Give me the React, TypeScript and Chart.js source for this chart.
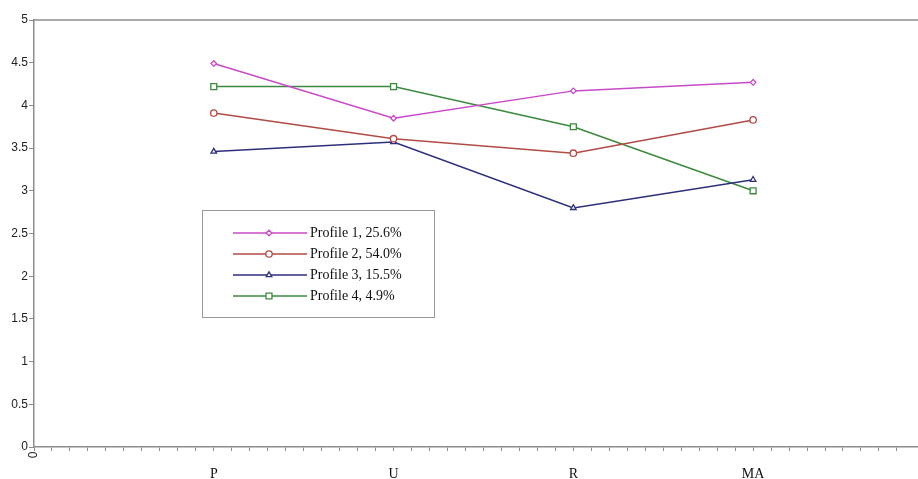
import React, { useEffect, useRef } from "react";
import { Chart, registerables } from "chart.js";
import { drawPoint } from "chart.js/helpers";

Chart.register(...registerables);

const categories = ["P", "U", "R", "MA"];
const seriesNames = ["Profile 1, 25.6%", "Profile 2, 54.0%", "Profile 3, 15.5%", "Profile 4, 4.9%"];
const profile1 = [4.49, 3.85, 4.17, 4.27];
const profile2 = [3.91, 3.61, 3.44, 3.83];
const profile3 = [3.46, 3.57, 2.8, 3.13];
const profile4 = [4.22, 4.22, 3.75, 3.0];
const yTickStep = 0.5;
const xOriginLabel = "0";

const colors = ["#c94ac9", "#b04b46", "#2e2f7c", "#3b8a3f"];
const pointStyles = ["rectRot", "circle", "triangle", "rect"];
const pointRadii = [2.8, 3.2, 3.2, 4.2];

const legendPlugin = {
  id: "boxLegend",
  afterDraw(chart: any) {
    const ctx = chart.ctx as CanvasRenderingContext2D;
    const area = chart.chartArea;
    ctx.save();
    // top frame line
    ctx.strokeStyle = "#8c8c8c";
    ctx.lineWidth = 1.5;
    ctx.beginPath();
    ctx.moveTo(area.left, area.top);
    ctx.lineTo(area.right, area.top);
    ctx.stroke();

    // rotated origin label
    ctx.save();
    ctx.translate(area.left, area.bottom + 8);
    ctx.rotate(-Math.PI / 2);
    ctx.fillStyle = "#222";
    ctx.font = "12px 'Liberation Sans', Arial, sans-serif";
    ctx.textAlign = "center";
    ctx.textBaseline = "middle";
    ctx.fillText(xOriginLabel, 0, 0);
    ctx.restore();

    // legend box
    const bx = 202, by = 210, bw = 232, bh = 107;
    ctx.strokeStyle = "#9a9a9a";
    ctx.lineWidth = 1;
    ctx.strokeRect(bx + 0.5, by + 0.5, bw, bh);
    chart.data.datasets.forEach((ds: any, i: number) => {
      const y = by + 23 + i * 21;
      ctx.strokeStyle = ds.borderColor;
      ctx.lineWidth = ds.borderWidth;
      ctx.beginPath();
      ctx.moveTo(bx + 31, y);
      ctx.lineTo(bx + 105, y);
      ctx.stroke();
      ctx.fillStyle = "#ffffff";
      ctx.strokeStyle = ds.borderColor;
      ctx.lineWidth = ds.pointBorderWidth;
      drawPoint(ctx, { pointStyle: ds.pointStyle, radius: ds.pointRadius, borderWidth: ds.pointBorderWidth, rotation: 0 } as any, bx + 67, y);
      ctx.fillStyle = "#111";
      ctx.font = "14px 'Liberation Serif', 'Times New Roman', serif";
      ctx.textAlign = "left";
      ctx.textBaseline = "middle";
      ctx.fillText(ds.label, bx + 108, y);
    });
    ctx.restore();
  },
};

export default function App() {
  const ref = useRef<HTMLCanvasElement | null>(null);
  useEffect(() => {
    if (!ref.current) return;
    const all = [profile1, profile2, profile3, profile4];
    const chart = new Chart(ref.current, {
      type: "line",
      data: {
        datasets: all.map((vals, i) => ({
          label: seriesNames[i],
          data: vals.map((v, j) => ({ x: j + 1, y: v })),
          borderColor: colors[i],
          backgroundColor: "#ffffff",
          borderWidth: 1.5,
          pointStyle: pointStyles[i] as any,
          pointRadius: pointRadii[i],
          pointBorderWidth: 1.3,
          pointBackgroundColor: "#ffffff",
          pointBorderColor: colors[i],
          tension: 0,
          fill: false,
        })),
      },
      options: {
        responsive: false,
        animation: false,
        layout: { padding: { top: 20, right: 0, bottom: 0, left: 0 } },
        plugins: { legend: { display: false }, tooltip: { enabled: false } },
        scales: {
          x: {
            type: "linear",
            min: 0,
            max: 4.92,
            afterFit: (s: any) => { s.height = 32; s.paddingRight = 0; s.paddingLeft = 0; },
            grid: { drawOnChartArea: false, drawTicks: true, tickLength: 4, color: "#8c8c8c", lineWidth: 1 },
            border: { display: true, color: "#8c8c8c", width: 1.5 },
            ticks: {
              stepSize: 0.1,
              autoSkip: false,
              maxRotation: 0,
              minRotation: 0,
              padding: 15,
              color: "#111",
              font: { family: "'Liberation Serif', 'Times New Roman', serif", size: 14 },
              callback: (v: any) => {
                const n = Number(v);
                const r = Math.round(n);
                if (Math.abs(n - r) < 1e-6 && r >= 1 && r <= categories.length) return categories[r - 1];
                return "";
              },
            },
          },
          y: {
            min: 0,
            max: 5,
            afterFit: (s: any) => { s.width = 34; },
            grid: { drawOnChartArea: false, drawTicks: true, tickLength: 5, color: "#8c8c8c", lineWidth: 1 },
            border: { display: true, color: "#8c8c8c", width: 1.5 },
            ticks: {
              stepSize: yTickStep,
              padding: 1,
              color: "#222",
              font: { family: "'Liberation Sans', Arial, sans-serif", size: 12 },
              callback: (v: any) => String(Number(Number(v).toFixed(1))),
            },
          },
        },
      },
      plugins: [legendPlugin],
    });
    return () => chart.destroy();
  }, []);
  return (
    <div style={{ position: "absolute", left: 0, top: 0, width: 918, height: 479, overflow: "hidden", background: "#fff" }}>
      <canvas ref={ref} width={924} height={479} style={{ display: "block" }} />
    </div>
  );
}
